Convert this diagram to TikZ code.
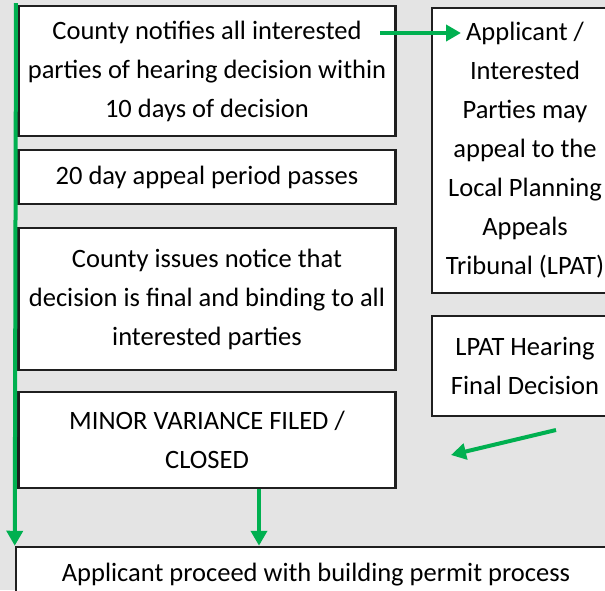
\documentclass[tikz,border=0pt]{standalone}
\usepackage{fontspec}
\setmainfont{Carlito}
\usetikzlibrary{arrows.meta,calc}
\definecolor{bg}{HTML}{E4E4E4}
\definecolor{grn}{HTML}{00B050}
\begin{document}
\begin{tikzpicture}[x=1pt,y=-1pt,
  box/.style={draw=black!88, line width=2.5pt, fill=white, align=center,
    font=\fontsize{26.5}{39}\selectfont, inner sep=0pt},
  flow/.style={draw=grn, line width=4pt, -{Triangle[length=15pt,width=16pt]}}]
\useasboundingbox (0,0) rectangle (605,590);
\clip (0,0) rectangle (605,590);
\fill[bg] (0,0) rectangle (605,590);
% left column
\node[box, minimum width=377pt, minimum height=130pt] (b1) at (207,71)
  {County notifies all interested\\parties of hearing decision within\\10 days of decision};
\node[box, minimum width=377pt, minimum height=54pt] (b2) at (207,177)
  {20 day appeal period passes};
\node[box, minimum width=377pt, minimum height=142pt] (b3) at (207,299)
  {County issues notice that\\decision is final and binding to all\\interested parties};
\node[box, minimum width=377pt, minimum height=96pt] (b4) at (207,440)
  {MINOR VARIANCE FILED /\\CLOSED};
% right column
\node[box, minimum width=186pt, minimum height=285pt] (r1) at (525,150.5)
  {Applicant /\\Interested\\Parties may\\appeal to the\\Local Planning\\Appeals\\Tribunal (LPAT)};
\node[box, minimum width=186pt, minimum height=100pt] (r2) at (525,366)
  {LPAT Hearing\\Final Decision};
% bottom
\node[box, minimum width=600pt, minimum height=56pt] (b5) at (316,575)
  {Applicant proceed with building permit process};
% connectors
\coordinate (top) at (16,3);
\coordinate (a1s) at (380,33);
\coordinate (a1e) at (461,33);
\coordinate (d1s) at (556,430);
\coordinate (d1e) at (451,455);
\draw[flow] (top) -- (b5.north west);
\draw[flow] (a1s) -- (a1e);
\draw[flow] (d1s) -- (d1e);
\draw[flow] (b4.south -| 259,0) -- (b5.north -| 259,0);
\end{tikzpicture}
\end{document}
